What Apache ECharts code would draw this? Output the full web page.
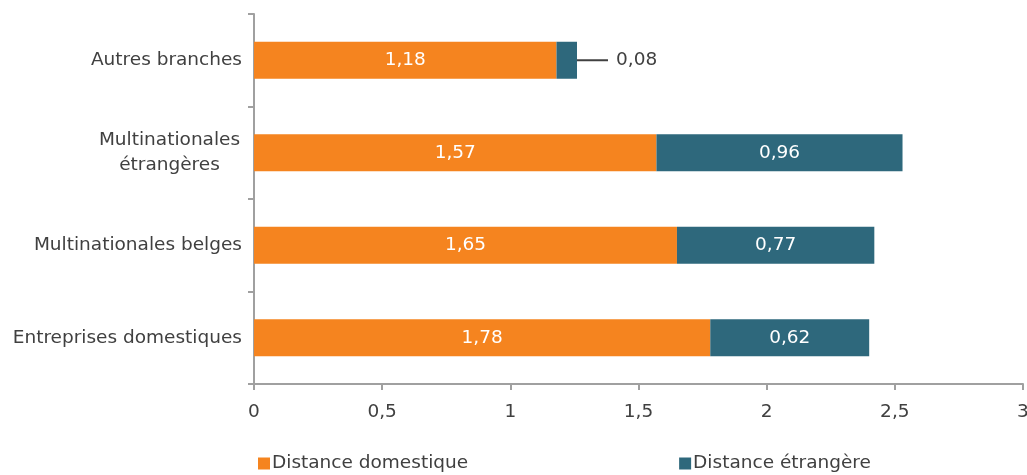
<!DOCTYPE html>
<html>
<head>
<meta charset="utf-8">
<script src="https://cdn.jsdelivr.net/npm/echarts@6/dist/echarts.min.js"></script>
<style>
  html, body { margin: 0; padding: 0; background: #fff; }
  #chart { width: 1027px; height: 475px; }
</style>
</head>
<body>
<div id="chart"></div>
<script>
// bottom to top
let categories = ['Entreprises domestiques', 'Multinationales belges', 'Multinationales\nétrangères', 'Autres branches']
let domestique = [1.78, 1.65, 1.57, 1.18]
let etrangere = [0.62, 0.77, 0.96, 0.08]
let seriesNames = ['Distance domestique', 'Distance étrangère']

let fontFamily = '"DejaVu Sans", sans-serif'
let textColor = '#404040'
let axisColor = '#a0a0a0'
let fontSize = 18.5

function comma (v) {
  return String(v).replace('.', ',')
}

let chart = echarts.init(document.getElementById('chart'))

let option = {
  animation: false,
  textStyle: { fontFamily: fontFamily },
  grid: { left: 254, right: 4, top: 14, bottom: 91, outerBoundsMode: 'none', containLabel: false },
  legend: {
    bottom: -3,
    left: 253,
    itemGap: 211,
    itemWidth: 12,
    itemHeight: 12,
    icon: 'rect',
    textStyle: { fontSize: fontSize, color: textColor, fontFamily: fontFamily, padding: [0, 0, 0, -3] },
    data: seriesNames
  },
  xAxis: {
    type: 'value',
    min: 0,
    max: 3,
    interval: 0.5,
    axisLine: { show: true, lineStyle: { color: axisColor, width: 2 } },
    axisTick: { show: true, length: 6, lineStyle: { color: axisColor, width: 2 } },
    splitLine: { show: false },
    axisLabel: { fontSize: fontSize, color: textColor, margin: 19, formatter: comma }
  },
  yAxis: {
    type: 'category',
    data: categories,
    axisLine: { show: true, lineStyle: { color: axisColor, width: 2 } },
    axisTick: { show: true, length: 6, lineStyle: { color: axisColor, width: 2 } },
    axisLabel: {
      fontSize: fontSize,
      color: textColor,
      margin: 12,
      lineHeight: 25,
      align: 'right',
      formatter: v => v.indexOf('\n') >= 0 ? v.split('\n').map(s => '{c|' + s + '}').join('\n') : v,
      rich: { c: { width: 145, align: 'center', fontSize: fontSize, color: textColor, lineHeight: 25 } }
    }
  },
  series: [
    {
      name: seriesNames[0],
      type: 'bar',
      stack: 'total',
      barWidth: '40%',
      itemStyle: { color: '#F5841F' },
      label: { show: true, position: 'inside', color: '#fff', fontSize: fontSize, formatter: p => comma(p.value) },
      data: domestique
    },
    {
      name: seriesNames[1],
      type: 'bar',
      stack: 'total',
      barWidth: '40%',
      itemStyle: { color: '#2E687C' },
      label: { show: true, position: 'inside', color: '#fff', fontSize: fontSize, formatter: p => comma(p.value) },
      data: etrangere.map(v => {
        if (v < 0.2) {
          return {
            value: v,
            label: {
              position: 'right',
              distance: 0,
              color: textColor,
              formatter: p => '{line|}{val|' + comma(p.value) + '}',
              rich: {
                line: { width: 31, height: 2, backgroundColor: '#404040', verticalAlign: 'middle' },
                val: { fontSize: fontSize, color: textColor, padding: [0, 0, 0, 8] }
              }
            }
          }
        }
        return v
      })
    }
  ]
}

chart.setOption(option)
</script>
</body>
</html>
